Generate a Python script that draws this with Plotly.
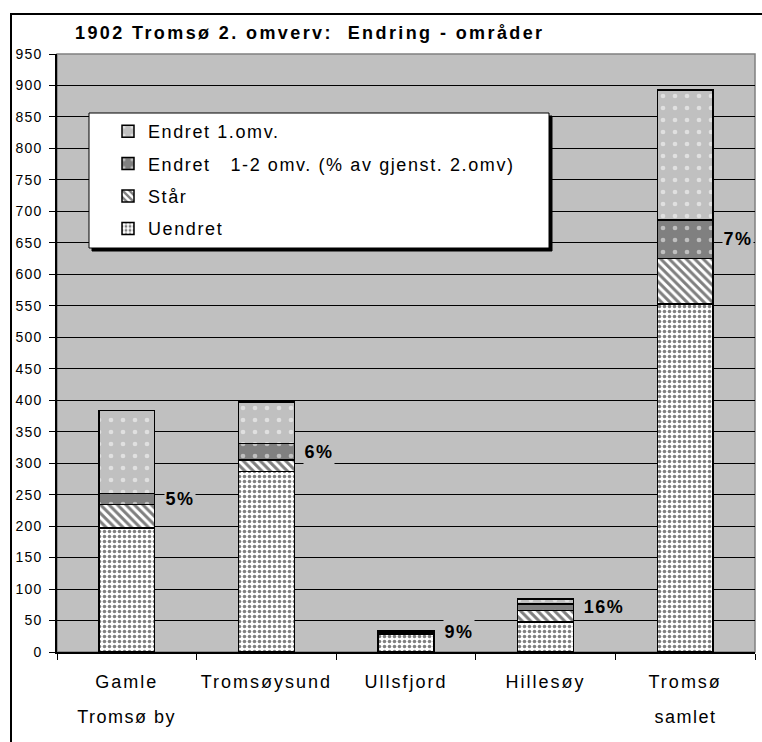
import plotly.graph_objects as go

# data
categories = ["Gamle Tromsø by", "Tromsøysund", "Ullsfjord", "Hillesøy", "Tromsø samlet"]
tick_line1 = ["Gamle", "Tromsøysund", "Ullsfjord", "Hillesøy", "Tromsø"]
tick_line2 = ["Tromsø by", "", "", "", "samlet"]
uendret = [197, 287, 28, 48, 553]
staar = [37, 18, 2, 18, 72]
endret_1_2 = [18, 26, 3, 10, 61]
endret_1 = [132, 66, 1, 8, 207]
pct_labels = ["5%", "6%", "9%", "16%", "7%"]

FONT = "Arial, Liberation Sans, sans-serif"
W, H = 762, 742
L, R, T, B = 57, 7, 54, 90


def px(x):
    return (x - L) / (W - L - R)


def py(y):
    return (H - B - y) / (H - T - B)


series = [
    ("Uendret", uendret, dict(shape=".", fgcolor="black", bgcolor="white", size=5, solidity=0.4)),
    ("Står", staar, dict(shape="\\", fgcolor="black", bgcolor="white", size=6, solidity=0.5)),
    ("Endret   1-2 omv. (% av gjenst. 2.omv)", endret_1_2,
     dict(shape=".", fgcolor="white", bgcolor="#808080", size=12, solidity=0.12)),
    ("Endret 1.omv.", endret_1, dict(shape=".", fgcolor="white", bgcolor="#C0C0C0", size=12, solidity=0.12)),
]

fig = go.Figure()
for i, (name, vals, pat) in enumerate(series):
    fig.add_trace(go.Bar(
        x=categories,
        y=vals,
        name=name,
        legendgroup=f"g{i}",
        legendrank=len(series) - i,
        marker=dict(color=pat["bgcolor"], pattern=pat, line=dict(color="black", width=1.5)),
        width=0.4,
        hoverinfo="skip",
    ))

# percentage labels beside the "Endret 1-2" segment
for i, cat in enumerate(categories):
    yc = uendret[i] + staar[i] + endret_1_2[i] / 2
    fig.add_annotation(
        x=cat, y=yc, text=f"<b>{pct_labels[i]}</b>", showarrow=False,
        xanchor="left", yanchor="middle", xshift=37,
        font=dict(family=FONT, size=18, color="black"),
        bgcolor="#C0C0C0", borderpad=2,
    )

# second line of the category labels (wider line spacing than plotly's <br>)
for cat, txt in zip(categories, tick_line2):
    if txt:
        fig.add_annotation(
            x=cat, y=py(717), yref="paper", text=txt, showarrow=False,
            xanchor="center", yanchor="middle",
            font=dict(family=FONT, size=18, color="black"),
        )

shapes = [
    # outer chart frame
    dict(type="rect", xref="paper", yref="paper", x0=px(11), y0=py(14), x1=px(780), y1=py(760),
         line=dict(color="black", width=2), fillcolor="rgba(0,0,0,0)", layer="above"),
    # plot area border (top/right gray)
    dict(type="rect", xref="paper", yref="paper", x0=0, y0=0, x1=1, y1=1,
         line=dict(color="#808080", width=1.5), fillcolor="rgba(0,0,0,0)", layer="below"),
    # legend shadow and box
    dict(type="rect", xref="paper", yref="paper", x0=px(92), y0=py(116), x1=px(552), y1=py(251),
         line=dict(color="black", width=1), fillcolor="black", layer="above"),
    dict(type="rect", xref="paper", yref="paper", x0=px(89), y0=py(113), x1=px(549), y1=py(248),
         line=dict(color="black", width=1), fillcolor="white", layer="above"),
]

fig.update_layout(
    width=W, height=H,
    margin=dict(l=L, r=R, t=T, b=B),
    barmode="stack",
    paper_bgcolor="white",
    plot_bgcolor="#C0C0C0",
    font=dict(family=FONT, size=14, color="black"),
    title=dict(text="<b>1902 Tromsø 2. omverv:  Endring - områder</b>", xref="container", yref="container",
               x=75 / W, y=1 - 33 / H, xanchor="left", yanchor="middle",
               font=dict(family=FONT, size=18, color="black")),
    showlegend=True,
    legend=dict(x=px(108), y=py(113), xanchor="left", yanchor="top", traceorder="grouped",
                tracegroupgap=6, bgcolor="rgba(0,0,0,0)", borderwidth=0,
                font=dict(family=FONT, size=18, color="black")),
    shapes=shapes,
)

fig.update_yaxes(range=[0, 950], dtick=50, tick0=0, showgrid=True, gridcolor="black", gridwidth=1,
                 ticks="outside", ticklen=6, tickcolor="black", showline=True, linecolor="black",
                 linewidth=1.5, zeroline=False, ticklabelstandoff=4, tickfont=dict(family=FONT, size=14))
fig.update_xaxes(showgrid=False, ticks="outside", tickson="boundaries", ticklen=6, tickcolor="black",
                 showline=True, linecolor="black", linewidth=1.5, ticklabelstandoff=13,
                 tickmode="array", tickvals=categories, ticktext=tick_line1,
                 tickfont=dict(family=FONT, size=18))

# no page margin, and the wide letter spacing of the original picture
css = (
    "body{margin:0;overflow:hidden}"
    ".legend .scrollbox{clip-path:none !important}"
    ".legendtext{letter-spacing:1.6px}"
    ".xtick text{letter-spacing:2px}"
    ".ytick text{letter-spacing:1.2px}"
    ".gtitle{letter-spacing:2.4px}"
    ".annotation-text{letter-spacing:1.5px}"
)
post = "var s=document.createElement('style');s.textContent='" + css + "';document.head.appendChild(s);"

fig.write_html("out.html", post_script=post, config={"displayModeBar": False})
